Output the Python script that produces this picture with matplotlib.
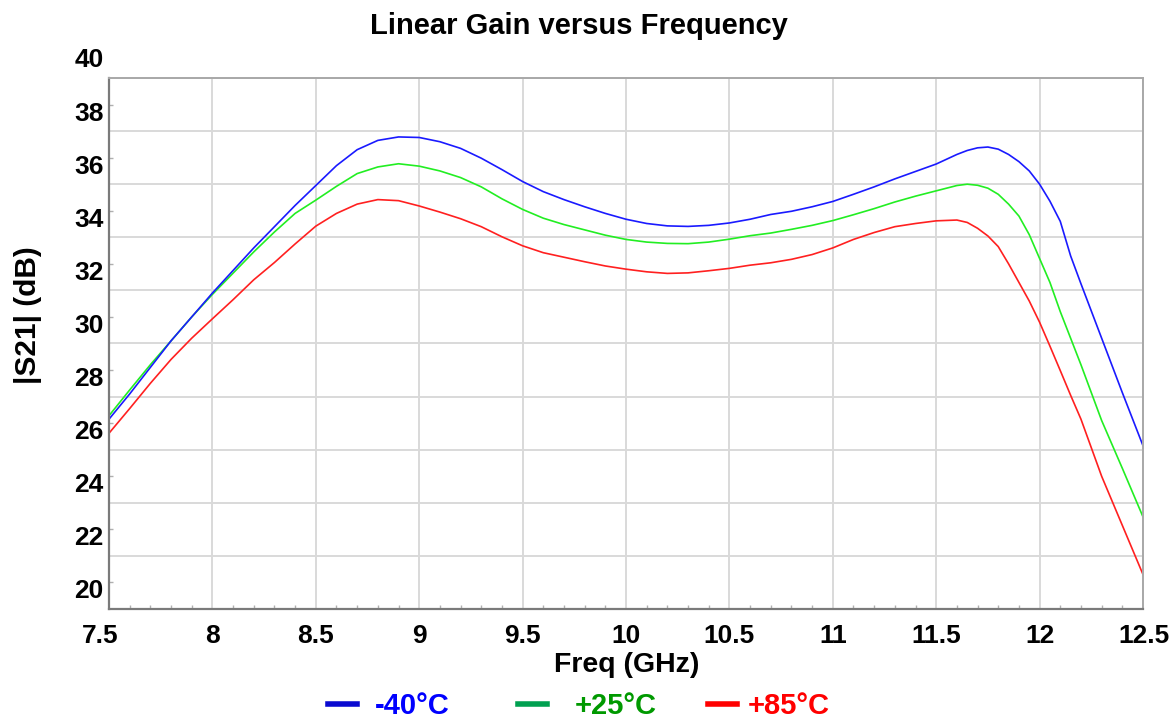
import numpy as np
import matplotlib
matplotlib.use("Agg")
import matplotlib.pyplot as plt
import matplotlib.transforms as mtransforms
from matplotlib.lines import Line2D
from matplotlib.ticker import MultipleLocator

plt.rcParams['font.family'] = ['Liberation Sans', 'DejaVu Sans']
plt.rcParams['font.weight'] = 'bold'

# frequency points (GHz)
freq = [7.5, 7.6, 7.7, 7.8, 7.9, 8.0, 8.1, 8.2, 8.3, 8.4,
        8.5, 8.6, 8.7, 8.8, 8.9, 9.0, 9.1, 9.2, 9.3, 9.4,
        9.5, 9.6, 9.7, 9.8, 9.9, 10.0, 10.1, 10.2, 10.3, 10.4,
        10.5, 10.6, 10.7, 10.8, 10.9, 11.0, 11.1, 11.2, 11.3, 11.4,
        11.5, 11.6, 11.65, 11.7, 11.75, 11.8, 11.85, 11.9, 11.95, 12.0,
        12.05, 12.1, 12.15, 12.2, 12.3, 12.4, 12.5]

# |S21| in dB for each temperature
gain_m40 = [27.15, 28.1, 29.1, 30.1, 31.0, 31.9, 32.75, 33.6, 34.4, 35.2,
            35.95, 36.7, 37.3, 37.65, 37.78, 37.76, 37.6, 37.35, 36.98, 36.55,
            36.1, 35.72, 35.42, 35.15, 34.9, 34.68, 34.52, 34.43, 34.41, 34.45,
            34.54, 34.68, 34.86, 34.98, 35.15, 35.35, 35.62, 35.9, 36.2, 36.48,
            36.76, 37.12, 37.27, 37.37, 37.4, 37.32, 37.12, 36.85, 36.5, 36.0,
            35.36, 34.6, 33.3, 32.25, 30.2, 28.15, 26.15]
gain_p25 = [27.28, 28.25, 29.2, 30.1, 31.0, 31.85, 32.65, 33.45, 34.2, 34.9,
            35.4, 35.92, 36.4, 36.65, 36.77, 36.68, 36.5, 36.25, 35.9, 35.45,
            35.05, 34.72, 34.48, 34.28, 34.08, 33.92, 33.82, 33.77, 33.76, 33.82,
            33.93, 34.06, 34.16, 34.3, 34.45, 34.63, 34.85, 35.08, 35.33, 35.55,
            35.75, 35.95, 36.0, 35.96, 35.85, 35.62, 35.25, 34.8, 34.1, 33.2,
            32.3, 31.2, 30.2, 29.2, 27.1, 25.3, 23.47]
gain_p85 = [26.62, 27.55, 28.5, 29.4, 30.2, 30.93, 31.65, 32.4, 33.05, 33.75,
            34.42, 34.9, 35.25, 35.42, 35.38, 35.18, 34.95, 34.7, 34.4, 34.02,
            33.68, 33.42, 33.25, 33.08, 32.92, 32.8, 32.7, 32.64, 32.66, 32.74,
            32.83, 32.95, 33.04, 33.17, 33.35, 33.6, 33.92, 34.18, 34.4, 34.52,
            34.62, 34.65, 34.56, 34.34, 34.05, 33.65, 33.0, 32.3, 31.6, 30.8,
            29.9, 28.98, 28.05, 27.15, 25.0, 23.15, 21.3]

labels = ["-40°C", "+25°C", "+85°C"]
line_colors = ["#1a1aff", "#22ee22", "#ff2020"]
legend_colors = ["#0a0ad0", "#00a050", "#ff0000"]
text_colors = ["#0000ff", "#009900", "#ff0000"]

W, H = 1173, 718
fig = plt.figure(figsize=(W / 100, H / 100), dpi=100)
ax = fig.add_axes([109 / W, 1 - 609 / H, (1143 - 109) / W, (609 - 78) / H])

ax.plot(freq, gain_p85, color=line_colors[2], lw=1.2)
ax.plot(freq, gain_p25, color=line_colors[1], lw=1.2)
ax.plot(freq, gain_m40, color=line_colors[0], lw=1.2)

ax.set_xlim(7.5, 12.5)
ax.set_ylim(20, 40)
ax.set_xticks(np.arange(7.5, 12.51, 0.5))
ax.set_xticklabels(["7.5", "8", "8.5", "9", "9.5", "10", "10.5", "11", "11.5", "12", "12.5"])
ax.set_yticks(np.arange(20, 40.1, 2))
ax.xaxis.set_minor_locator(MultipleLocator(0.1))
ax.yaxis.set_minor_locator(MultipleLocator(1))

ax.grid(True, which='major', color="#d9d9d9", lw=1.4)
ax.set_axisbelow(True)
ax.tick_params(which='major', length=0, labelsize=19)
ax.tick_params(axis='x', which='major', pad=11)
ax.tick_params(axis='y', which='major', pad=4)
ax.tick_params(which='minor', direction='in', length=3, width=1, color="#b0b0b0")

for side in ['left', 'bottom']:
    ax.spines[side].set_color("#7a7a7a")
    ax.spines[side].set_linewidth(1.6)
for side in ['top', 'right']:
    ax.spines[side].set_color("#a8a8a8")
    ax.spines[side].set_linewidth(1.4)

# y labels sit above their grid lines in the original
up = mtransforms.ScaledTranslation(0, 20 / 100, fig.dpi_scale_trans)
for lab in ax.get_yticklabels():
    lab.set_transform(lab.get_transform() + up)
xlabs = ax.get_xticklabels()
xlabs[0].set_transform(xlabs[0].get_transform() + mtransforms.ScaledTranslation(-9 / 100, 0, fig.dpi_scale_trans))
xlabs[-1].set_horizontalalignment('right')
xlabs[-1].set_transform(xlabs[-1].get_transform() + mtransforms.ScaledTranslation(27 / 100, 0, fig.dpi_scale_trans))

fig.text(579 / W, 1 - 26 / H, "Linear Gain versus Frequency", ha='center', va='center',
         fontsize=21, fontweight='bold')
fig.text(627 / W, 1 - 665 / H, "Freq (GHz)", ha='center', va='center',
         fontsize=20.5, fontweight='bold')
fig.text(28 / W, 1 - 315 / H, "|S21| (dB)", ha='center', va='center', rotation=90,
         fontsize=21.5, fontweight='bold')

# one legend entry each, laid out like the original's loose row
entry_x = [328, 518, 708]
entry_pad = [0.6, 0.95, 0.35]
for lbl, lc, tc, x0, pad in zip(labels, legend_colors, text_colors, entry_x, entry_pad):
    leg = fig.legend([Line2D([0], [0], color=lc, lw=4)], [lbl], loc='center left',
                     bbox_to_anchor=(x0 / W, 1 - 706 / H), frameon=False, fontsize=21,
                     handlelength=1.0, handletextpad=pad, borderpad=0, borderaxespad=0)
    leg.get_texts()[0].set_color(tc)
    leg.get_texts()[0].set_fontweight('bold')

fig.savefig("out.png", dpi=100)
